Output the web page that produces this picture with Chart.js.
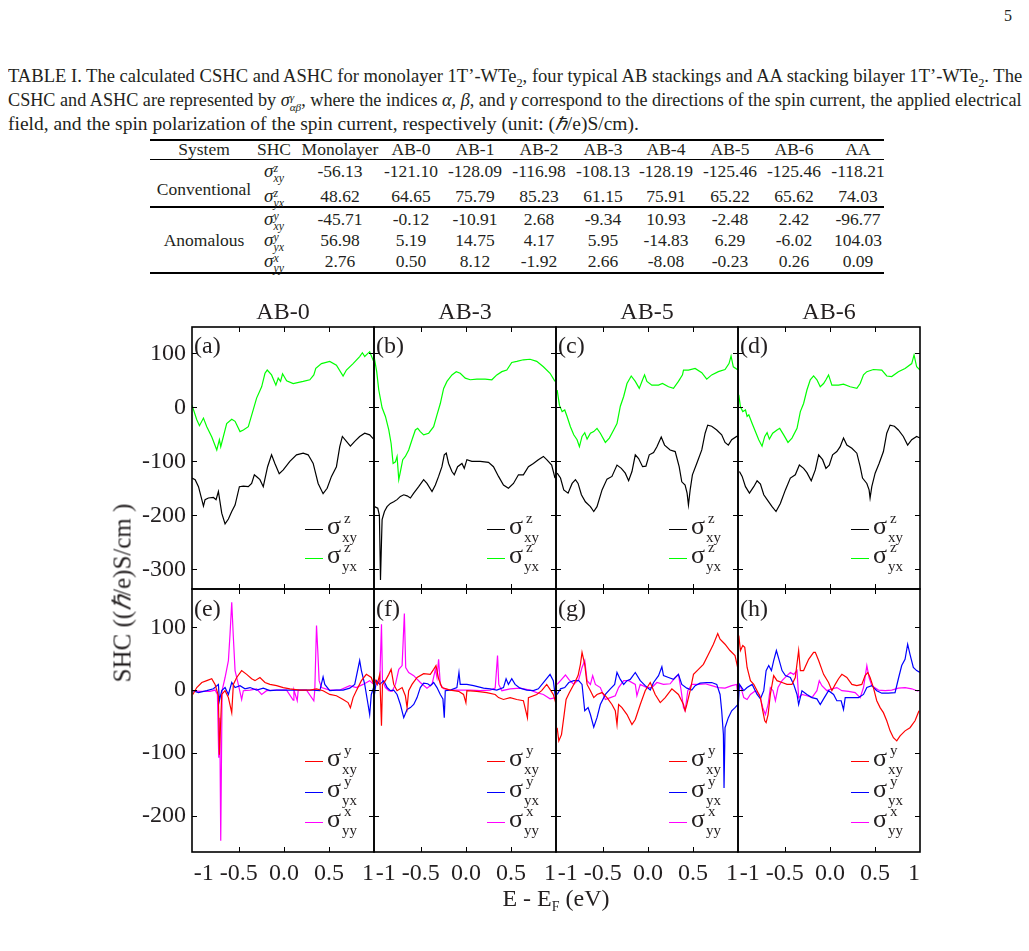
<!DOCTYPE html>
<html>
<head>
<meta charset="utf-8">
<script src="https://cdn.jsdelivr.net/npm/chart.js@4.4.1/dist/chart.umd.min.js"></script>
<style>
  body { margin: 0; background: #fff; }
  #page { position: relative; width: 1029px; height: 951px; overflow: hidden;
          font-family: "Liberation Serif", "Times New Roman", serif; color: #231f20; }
  .t { position: absolute; white-space: nowrap; line-height: 1; }
  canvas { position: absolute; }
  .cap { position: absolute; left: 8px; font-size: 18px; line-height: 24px; white-space: nowrap;
         transform-origin: 0 50%; }
  .rule { position: absolute; left: 150px; width: 734px; background: #000; }
  .st { display: inline-block; vertical-align: -0.42em; line-height: 0.85; font-size: 0.62em; text-align: left; }
  .st span { display: block; }
  .lg { position: absolute; height: 0; border-top: 1.3px solid; width: 18px; }
</style>
</head>
<body>
<div id="page"></div>
<script>
// ---- data ----
const energyTicks = [-1, -0.5, 0, 0.5, 1];
const shcTicksTop = [100, 0, -100, -200, -300];
const shcTicksBottom = [100, 0, -100, -200];
const stackings = ['AB-0', 'AB-3', 'AB-5', 'AB-6'];
const panelTags = [['(a)', '(b)', '(c)', '(d)'], ['(e)', '(f)', '(g)', '(h)']];

// conventional SHC, sigma^z_xy (black) and sigma^z_yx (green)
const ab0Zxy = [[-1.02,-131],[-0.985,-134],[-0.948,-147],[-0.911,-171],[-0.893,-183],[-0.875,-171],[-0.838,-168],[-0.782,-167],[-0.753,-171],[-0.727,-156],[-0.69,-196],[-0.653,-216],[-0.616,-207],[-0.579,-193],[-0.542,-181],[-0.494,-147],[-0.45,-146],[-0.395,-147],[-0.358,-141],[-0.328,-125],[-0.292,-130],[-0.266,-134],[-0.229,-147],[-0.181,-110],[-0.137,-88],[-0.1,-104],[-0.052,-123],[-0.007,-116],[0.066,-100],[0.14,-88],[0.214,-85],[0.269,-88],[0.325,-104],[0.38,-141],[0.435,-160],[0.48,-150],[0.528,-128],[0.583,-110],[0.62,-73],[0.649,-54],[0.694,-63],[0.738,-72],[0.786,-63],[0.841,-54],[0.897,-48],[0.952,-51],[0.996,-59]];
const ab0Zyx = [[-1.02,4],[-0.967,-23],[-0.937,-34],[-0.893,-20],[-0.856,-36],[-0.8,-55],[-0.745,-79],[-0.716,-60],[-0.701,-73],[-0.635,-30],[-0.579,-22],[-0.542,-26],[-0.487,-45],[-0.45,-42],[-0.395,-36],[-0.339,-4],[-0.303,17],[-0.247,38],[-0.21,63],[-0.185,69],[-0.137,60],[-0.089,41],[-0.063,54],[-0.037,48],[-0.015,62],[0.03,49],[0.103,44],[0.214,48],[0.288,51],[0.332,60],[0.354,72],[0.417,81],[0.509,85],[0.583,78],[0.657,58],[0.694,69],[0.768,81],[0.841,94],[0.871,101],[0.897,94],[0.915,97],[0.952,103],[0.996,85]];
const ab3Zxy = [[-1.015,-184],[-0.978,-187],[-0.96,-200],[-0.948,-320],[-0.937,-250],[-0.93,-208],[-0.904,-193],[-0.875,-184],[-0.838,-178],[-0.801,-175],[-0.764,-171],[-0.727,-165],[-0.69,-162],[-0.653,-164],[-0.616,-168],[-0.579,-159],[-0.524,-147],[-0.469,-134],[-0.432,-141],[-0.376,-156],[-0.339,-144],[-0.303,-128],[-0.266,-110],[-0.24,-88],[-0.218,-85],[-0.192,-104],[-0.155,-119],[-0.129,-125],[-0.092,-110],[-0.044,-104],[-0.018,-113],[0.011,-97],[0.066,-100],[0.159,-100],[0.251,-102],[0.306,-110],[0.362,-128],[0.417,-144],[0.472,-150],[0.528,-141],[0.583,-125],[0.638,-125],[0.694,-110],[0.749,-104],[0.804,-97],[0.86,-91],[0.897,-97],[0.952,-107],[0.989,-131]];
const ab3Zyx = [[-1.015,90],[-0.99,66],[-0.967,32],[-0.93,-1],[-0.893,-17],[-0.856,-42],[-0.83,-67],[-0.808,-104],[-0.782,-101],[-0.764,-91],[-0.745,-134],[-0.727,-119],[-0.701,-97],[-0.672,-91],[-0.635,-79],[-0.598,-60],[-0.561,-42],[-0.535,-39],[-0.506,-45],[-0.469,-51],[-0.413,-48],[-0.358,-36],[-0.321,-14],[-0.284,7],[-0.247,35],[-0.21,48],[-0.155,60],[-0.107,66],[-0.063,63],[-0.007,54],[0.048,51],[0.122,52],[0.214,52],[0.288,51],[0.343,60],[0.399,66],[0.454,69],[0.509,83],[0.565,85],[0.638,88],[0.712,89],[0.786,85],[0.86,75],[0.934,63],[0.989,48]];
const ab5Zxy = [[-1.007,-122],[-0.97,-131],[-0.934,-153],[-0.886,-159],[-0.841,-141],[-0.804,-134],[-0.775,-141],[-0.738,-162],[-0.694,-175],[-0.638,-184],[-0.601,-193],[-0.565,-184],[-0.509,-153],[-0.454,-133],[-0.399,-128],[-0.343,-107],[-0.295,-113],[-0.251,-122],[-0.214,-136],[-0.177,-119],[-0.14,-88],[-0.103,-95],[-0.059,-110],[-0.022,-109],[0.015,-88],[0.063,-84],[0.1,-73],[0.148,-55],[0.185,-70],[0.247,-79],[0.303,-82],[0.347,-110],[0.376,-138],[0.413,-144],[0.435,-159],[0.45,-181],[0.469,-153],[0.494,-125],[0.542,-104],[0.598,-79],[0.635,-48],[0.664,-33],[0.708,-35],[0.764,-42],[0.819,-51],[0.856,-65],[0.893,-70],[0.93,-60],[0.985,-54],[1.0,-54]];
const ab5Zyx = [[-1.007,32],[-0.982,4],[-0.952,-8],[-0.923,-5],[-0.897,-17],[-0.86,-36],[-0.823,-51],[-0.786,-60],[-0.76,-73],[-0.731,-54],[-0.701,-47],[-0.675,-59],[-0.638,-48],[-0.601,-45],[-0.565,-39],[-0.528,-48],[-0.472,-65],[-0.428,-57],[-0.38,-42],[-0.343,-30],[-0.306,2],[-0.269,20],[-0.232,44],[-0.185,58],[-0.14,48],[-0.096,35],[-0.059,51],[-0.037,60],[-0.011,48],[0.044,41],[0.118,41],[0.162,44],[0.229,38],[0.284,35],[0.339,48],[0.384,60],[0.395,69],[0.45,69],[0.524,72],[0.598,64],[0.653,52],[0.708,60],[0.782,66],[0.856,70],[0.9,81],[0.923,95],[0.948,75],[1.0,69]];
const ab6Zxy = [[-1.004,-119],[-0.974,-128],[-0.937,-147],[-0.893,-159],[-0.845,-147],[-0.808,-136],[-0.771,-142],[-0.734,-162],[-0.679,-175],[-0.642,-184],[-0.598,-193],[-0.55,-178],[-0.494,-153],[-0.439,-131],[-0.384,-125],[-0.339,-107],[-0.292,-113],[-0.255,-121],[-0.207,-136],[-0.162,-116],[-0.125,-88],[-0.081,-97],[-0.044,-113],[-0.007,-107],[0.03,-88],[0.077,-82],[0.114,-73],[0.151,-57],[0.188,-70],[0.244,-76],[0.299,-85],[0.336,-110],[0.362,-131],[0.41,-141],[0.435,-153],[0.446,-168],[0.465,-147],[0.502,-122],[0.546,-104],[0.594,-82],[0.631,-48],[0.668,-33],[0.716,-35],[0.76,-42],[0.815,-54],[0.863,-70],[0.908,-60],[0.963,-54],[1.0,-57]];
const ab6Zyx = [[-1.011,23],[-0.993,1],[-0.967,-8],[-0.937,-5],[-0.919,-17],[-0.9,-14],[-0.863,-30],[-0.827,-45],[-0.79,-60],[-0.753,-72],[-0.723,-54],[-0.697,-47],[-0.672,-59],[-0.635,-48],[-0.587,-42],[-0.557,-39],[-0.513,-51],[-0.465,-65],[-0.421,-57],[-0.365,-39],[-0.328,-8],[-0.292,7],[-0.255,32],[-0.218,51],[-0.181,58],[-0.144,51],[-0.107,38],[-0.07,44],[-0.044,51],[-0.015,60],[0.022,41],[0.096,41],[0.151,43],[0.225,38],[0.299,35],[0.336,44],[0.373,60],[0.41,66],[0.483,70],[0.576,69],[0.631,58],[0.686,57],[0.76,66],[0.834,72],[0.908,81],[0.934,97],[0.963,75],[1.0,69]];

// anomalous SHC, sigma^y_xy (red), sigma^y_yx (blue), sigma^x_yy (magenta)
const ab0Yxy = [[-1.011,-7],[-0.967,4],[-0.911,12],[-0.856,15],[-0.801,18],[-0.764,9],[-0.727,-9],[-0.716,-103],[-0.69,-7],[-0.653,-1],[-0.616,-12],[-0.579,-36],[-0.561,9],[-0.524,20],[-0.469,31],[-0.413,25],[-0.358,18],[-0.321,15],[-0.266,20],[-0.21,12],[-0.155,9],[-0.081,7],[-0.007,4],[0.066,2],[0.177,0],[0.288,0],[0.362,2],[0.435,-1],[0.509,-7],[0.583,-9],[0.657,-15],[0.712,-20],[0.738,-28],[0.768,-12],[0.804,-1],[0.86,15],[0.915,25],[0.97,20],[0.996,9]];
const ab0Yyx = [[-1.011,-1],[-0.948,-4],[-0.856,-1],[-0.782,2],[-0.727,9],[-0.716,-17],[-0.69,-1],[-0.653,4],[-0.616,-7],[-0.579,12],[-0.542,4],[-0.487,7],[-0.432,2],[-0.376,4],[-0.303,0],[-0.229,3],[-0.155,-1],[-0.081,0],[0.066,0],[0.214,0],[0.325,0],[0.399,-1],[0.435,21],[0.454,9],[0.509,-1],[0.583,0],[0.657,0],[0.731,3],[0.786,9],[0.841,47],[0.86,31],[0.897,9],[0.934,-23],[0.952,-39],[0.97,-7],[0.996,4]];
const ab0Xyy = [[-1.011,-1],[-0.93,-2],[-0.819,-2],[-0.764,0],[-0.738,-7],[-0.723,-108],[-0.712,-44],[-0.701,-240],[-0.686,-1],[-0.653,20],[-0.616,47],[-0.598,89],[-0.579,140],[-0.561,84],[-0.542,31],[-0.506,9],[-0.469,-15],[-0.45,-1],[-0.376,0],[-0.303,2],[-0.247,-7],[-0.192,-1],[-0.081,0],[0.03,0],[0.103,-16],[0.111,0],[0.148,-17],[0.159,0],[0.251,0],[0.332,-17],[0.343,0],[0.362,103],[0.376,63],[0.391,15],[0.417,4],[0.509,0],[0.62,0],[0.731,7],[0.804,4],[0.878,9],[0.952,15],[0.996,9]];
const ab3Yxy = [[-1.015,18],[-0.985,9],[-0.956,25],[-0.937,-57],[-0.926,9],[-0.893,15],[-0.856,25],[-0.83,33],[-0.801,9],[-0.764,-1],[-0.708,4],[-0.672,-9],[-0.653,-28],[-0.635,-1],[-0.598,9],[-0.542,20],[-0.469,26],[-0.395,25],[-0.358,33],[-0.332,39],[-0.303,18],[-0.266,4],[-0.173,0],[-0.081,-2],[-0.026,-7],[0,-20],[0.011,-1],[0.122,-2],[0.232,-4],[0.325,-7],[0.362,-12],[0.417,-15],[0.491,-12],[0.565,-15],[0.638,-17],[0.683,-44],[0.694,-12],[0.786,-7],[0.841,-1],[0.897,9],[0.934,1],[0.97,-7],[0.996,-20]];
const ab3Yyx = [[-1.015,-7],[-0.993,15],[-0.956,9],[-0.911,15],[-0.875,4],[-0.838,-1],[-0.801,0],[-0.764,-7],[-0.727,-23],[-0.69,-44],[-0.653,-31],[-0.616,-28],[-0.579,-23],[-0.542,-12],[-0.506,4],[-0.469,11],[-0.424,10],[-0.395,7],[-0.358,12],[-0.321,4],[-0.284,-7],[-0.255,-14],[-0.24,-44],[-0.229,-1],[-0.173,0],[-0.1,4],[-0.077,28],[-0.063,9],[0.011,9],[0.085,7],[0.196,3],[0.269,2],[0.343,0],[0.417,4],[0.446,18],[0.472,9],[0.509,18],[0.546,9],[0.601,3],[0.675,0],[0.749,-1],[0.804,2],[0.86,12],[0.934,25],[0.97,15],[0.996,-14]];
const ab3Xyy = [[-1.015,15],[-0.985,9],[-0.956,15],[-0.937,105],[-0.926,15],[-0.893,4],[-0.856,-1],[-0.819,-2],[-0.782,9],[-0.745,33],[-0.708,39],[-0.683,122],[-0.668,36],[-0.635,28],[-0.579,23],[-0.506,12],[-0.432,3],[-0.376,9],[-0.339,33],[-0.321,20],[-0.303,49],[-0.284,9],[-0.247,2],[-0.173,0],[-0.063,0],[0.048,0],[0.159,-1],[0.269,0],[0.325,3],[0.351,55],[0.365,9],[0.399,-1],[0.491,2],[0.601,3],[0.712,0],[0.786,-4],[0.86,-7],[0.934,-14],[0.996,-12]];
const ab5Yxy = [[-1.007,-60],[-0.989,-81],[-0.959,-71],[-0.934,-44],[-0.908,-15],[-0.871,-4],[-0.823,9],[-0.775,23],[-0.749,41],[-0.731,60],[-0.701,41],[-0.675,9],[-0.638,-1],[-0.601,-12],[-0.565,-7],[-0.509,-4],[-0.454,-12],[-0.399,-23],[-0.362,-33],[-0.343,-55],[-0.325,-23],[-0.288,-28],[-0.232,-39],[-0.177,-55],[-0.14,-47],[-0.085,-23],[-0.03,-1],[0.026,12],[0.081,-7],[0.137,-20],[0.192,-12],[0.266,2],[0.339,-7],[0.395,-23],[0.413,-33],[0.432,-23],[0.469,-1],[0.506,25],[0.561,33],[0.616,41],[0.672,57],[0.727,73],[0.775,90],[0.801,81],[0.856,73],[0.911,63],[0.967,55],[0.996,36]];
const ab5Yyx = [[-1.007,-7],[-0.97,2],[-0.923,4],[-0.878,12],[-0.823,15],[-0.768,15],[-0.731,9],[-0.701,-33],[-0.664,-28],[-0.638,-39],[-0.601,-59],[-0.565,-44],[-0.528,-23],[-0.472,-7],[-0.417,2],[-0.369,9],[-0.343,28],[-0.306,17],[-0.269,9],[-0.232,15],[-0.196,17],[-0.14,28],[-0.085,15],[-0.03,7],[0.026,0],[0.063,12],[0.118,23],[0.155,37],[0.173,23],[0.229,20],[0.284,17],[0.339,25],[0.376,9],[0.432,3],[0.487,0],[0.524,7],[0.579,11],[0.653,12],[0.708,12],[0.764,9],[0.801,-7],[0.819,-33],[0.838,-71],[0.845,-156],[0.856,-60],[0.893,-44],[0.93,-33],[0.967,-28],[1.0,-23]];
const ab5Xyy = [[-1.007,9],[-0.97,15],[-0.915,24],[-0.878,17],[-0.823,9],[-0.768,17],[-0.731,36],[-0.701,47],[-0.675,15],[-0.638,9],[-0.613,23],[-0.583,9],[-0.528,4],[-0.472,-15],[-0.417,-12],[-0.362,-9],[-0.325,4],[-0.269,15],[-0.214,15],[-0.14,9],[-0.122,-9],[-0.085,9],[-0.011,4],[0.044,4],[0.1,12],[0.173,9],[0.247,10],[0.303,20],[0.339,25],[0.369,-1],[0.395,-28],[0.413,-33],[0.443,-1],[0.487,9],[0.561,9],[0.635,10],[0.708,7],[0.782,4],[0.856,3],[0.93,7],[0.985,9],[1.0,-9]];
const ab6Yxy = [[-1.011,87],[-0.993,63],[-0.967,71],[-0.945,68],[-0.919,36],[-0.882,15],[-0.845,9],[-0.808,-1],[-0.771,-12],[-0.745,-33],[-0.723,-49],[-0.708,-52],[-0.686,-39],[-0.661,-7],[-0.624,23],[-0.587,15],[-0.531,12],[-0.476,9],[-0.421,9],[-0.384,20],[-0.347,63],[-0.328,31],[-0.292,31],[-0.236,49],[-0.181,60],[-0.162,60],[-0.125,47],[-0.07,25],[-0.015,12],[0.022,-1],[0.059,9],[0.096,18],[0.133,25],[0.188,20],[0.244,9],[0.299,7],[0.354,9],[0.391,23],[0.421,28],[0.446,20],[0.483,4],[0.52,-17],[0.557,-28],[0.594,-36],[0.631,-49],[0.668,-65],[0.705,-76],[0.742,-81],[0.779,-73],[0.834,-65],[0.889,-60],[0.945,-49],[0.989,-33]];
const ab6Yyx = [[-1.02,-33],[-1.004,9],[-0.956,-1],[-0.919,4],[-0.863,9],[-0.808,-7],[-0.771,-14],[-0.734,-1],[-0.708,31],[-0.679,39],[-0.649,31],[-0.624,47],[-0.594,63],[-0.568,50],[-0.531,31],[-0.494,23],[-0.439,20],[-0.402,9],[-0.365,-7],[-0.347,-23],[-0.31,-1],[-0.255,-7],[-0.199,-12],[-0.144,-14],[-0.107,-23],[-0.07,-14],[-0.015,-1],[0.041,-7],[0.077,-17],[0.125,-17],[0.151,-31],[0.17,-12],[0.244,-12],[0.317,-12],[0.373,-7],[0.41,4],[0.465,7],[0.52,-1],[0.576,-5],[0.649,-5],[0.723,-4],[0.76,18],[0.797,39],[0.834,49],[0.863,73],[0.889,57],[0.926,36],[0.963,31],[1.0,28]];
const ab6Xyy = [[-1.02,9],[-0.993,7],[-0.956,-12],[-0.919,-15],[-0.882,-7],[-0.827,-1],[-0.782,-7],[-0.745,-28],[-0.716,-39],[-0.686,-23],[-0.661,4],[-0.631,-1],[-0.605,-17],[-0.576,4],[-0.531,15],[-0.476,23],[-0.439,28],[-0.402,25],[-0.365,31],[-0.347,-12],[-0.31,-7],[-0.255,-9],[-0.199,-12],[-0.144,-1],[-0.118,15],[-0.089,7],[-0.033,-1],[0.022,2],[0.077,4],[0.133,-1],[0.207,-2],[0.28,-4],[0.336,-12],[0.373,4],[0.41,39],[0.435,20],[0.465,7],[0.539,0],[0.613,-1],[0.686,0],[0.76,3],[0.834,4],[0.908,2],[0.982,-2]];

// table I
const tableHeader = ['System', 'SHC', 'Monolayer', 'AB-0', 'AB-1', 'AB-2', 'AB-3', 'AB-4', 'AB-5', 'AB-6', 'AA'];
const cshcXY = ['-56.13', '-121.10', '-128.09', '-116.98', '-108.13', '-128.19', '-125.46', '-125.46', '-118.21'];
const cshcYX = ['48.62', '64.65', '75.79', '85.23', '61.15', '75.91', '65.22', '65.62', '74.03'];
const ashcXY = ['-45.71', '-0.12', '-10.91', '2.68', '-9.34', '10.93', '-2.48', '2.42', '-96.77'];
const ashcYX = ['56.98', '5.19', '14.75', '4.17', '5.95', '-14.83', '6.29', '-6.02', '104.03'];
const ashcYY = ['2.76', '0.50', '8.12', '-1.92', '2.66', '-8.08', '-0.23', '0.26', '0.09'];

// ---- page layout ----
const page = document.getElementById('page');
function addText(html, x, y, size, transform, extra) {
  const d = document.createElement('div');
  d.className = 't';
  d.innerHTML = html;
  d.style.left = x + 'px';
  d.style.top = y + 'px';
  d.style.fontSize = size + 'px';
  if (transform) d.style.transform = transform;
  if (extra) Object.assign(d.style, extra);
  page.appendChild(d);
  return d;
}
const C = 'translate(-50%,-50%)';
const sig = (sup, sub) => '<i>σ</i><span class="st"><span><i>' + sup + '</i></span><span><i>' + sub + '</i></span></span>';

addText('5', 1004, 8, 16);

// caption: each line squeezed to the width it takes in the printed page
const capLines = [
  'TABLE I. The calculated CSHC and ASHC for monolayer 1T’-WTe<sub style="font-size:12px">2</sub>, four typical AB stackings and AA stacking bilayer 1T’-WTe<sub style="font-size:12px">2</sub>. The',
  'CSHC and ASHC are represented by ' + sig('γ', 'αβ') + ', where the indices <i>α</i>, <i>β</i>, and <i>γ</i> correspond to the directions of the spin current, the applied electrical',
  'field, and the spin polarization of the spin current, respectively (unit: (<i>ℏ</i>/e)S/cm).'
];
const capWidth = [1014, 1014, 631];
const capTop = [64, 88, 112];
const capDivs = capLines.map((html, i) => {
  const d = document.createElement('div');
  d.className = 'cap';
  d.style.top = capTop[i] + 'px';
  d.innerHTML = html;
  page.appendChild(d);
  return d;
});
function fitCaption() {
  capDivs.forEach((d, i) => {
    d.style.transform = 'none';
    d.style.transform = 'scaleX(' + (capWidth[i] / d.offsetWidth) + ')';
  });
}
fitCaption();
if (document.fonts) document.fonts.ready.then(fitCaption);

// table
[[140, 1.6], [159, 0.8], [207, 1.6], [273, 1.6]].forEach(([y, h]) => {
  const r = document.createElement('div');
  r.className = 'rule';
  r.style.top = (y - h / 2) + 'px';
  r.style.height = h + 'px';
  page.appendChild(r);
});
const colX = [204, 274, 340, 411, 475, 539, 603, 666, 730, 794, 858];
const rowY = [150, 172, 197, 220, 241, 262];
tableHeader.forEach((h, i) => addText(h, colX[i], rowY[0], 17.5, C));
addText('Conventional', colX[0], 190, 17.5, C);
addText('Anomalous', colX[0], rowY[4], 17.5, C);
const shcLabels = [sig('z', 'xy'), sig('z', 'yx'), sig('y', 'xy'), sig('y', 'yx'), sig('x', 'yy')];
[cshcXY, cshcYX, ashcXY, ashcYX, ashcYY].forEach((row, r) => {
  addText(shcLabels[r], colX[1], rowY[r + 1], 19, C);
  row.forEach((v, i) => addText(v, colX[i + 2], rowY[r + 1], 17.5, C));
});

// ---- charts ----
const panelLeft = [192, 374, 556, 738];
const rowTop = [327, 589];
const plotW = 182, plotH = [262, 263];
const yRange = [[-336.5, 148.7], [-258, 161]];
const padL = 75, padR = 12, padT = 12, padB = 45;

const framePlugin = {
  id: 'frame',
  afterDatasetsDraw(chart) {
    const { ctx, chartArea: a, scales: { x, y } } = chart;
    ctx.save();
    ctx.strokeStyle = '#000';
    ctx.lineWidth = 1;
    ctx.beginPath();
    energyTicks.filter(v => Math.abs(v) < 1).forEach(v => {
      const px = Math.round(x.getPixelForValue(v)) + 0.5;
      ctx.moveTo(px, a.bottom); ctx.lineTo(px, a.bottom - 5);
      ctx.moveTo(px, a.top); ctx.lineTo(px, a.top + 5);
    });
    y.ticks.forEach(t => {
      const py = Math.round(y.getPixelForValue(t.value)) + 0.5;
      ctx.moveTo(a.left, py); ctx.lineTo(a.left + 5, py);
      ctx.moveTo(a.right, py); ctx.lineTo(a.right - 5, py);
    });
    ctx.stroke();
    ctx.lineWidth = 1.6;
    ctx.strokeRect(a.left, a.top, a.right - a.left, a.bottom - a.top);
    ctx.restore();
  }
};

function makePanel(col, row, series, colors) {
  const cv = document.createElement('canvas');
  cv.width = plotW + padL + padR;
  cv.height = plotH[row] + padT + padB;
  cv.style.left = (panelLeft[col] - padL) + 'px';
  cv.style.top = (rowTop[row] - padT) + 'px';
  page.appendChild(cv);
  const yTicks = row === 0 ? shcTicksTop : shcTicksBottom;
  new Chart(cv, {
    type: 'line',
    data: {
      datasets: series.map((s, k) => ({
        data: s.map(p => ({ x: p[0], y: p[1] })),
        borderColor: colors[k],
        borderWidth: 1.2,
        pointRadius: 0,
        tension: 0,
        fill: false
      }))
    },
    options: {
      responsive: false,
      animation: false,
      devicePixelRatio: 1,
      layout: { padding: { top: padT, right: padR, left: 0, bottom: 0 } },
      plugins: { legend: { display: false }, tooltip: { enabled: false } },
      scales: {
        x: {
          type: 'linear', min: -1.02, max: 1.0,
          afterBuildTicks: s => { s.ticks = energyTicks.map(v => ({ value: v })); },
          afterFit: s => { s.height = padB; s.paddingLeft = 0; s.paddingRight = 0; },
          grid: { display: false, drawTicks: false },
          border: { display: false },
          ticks: {
            display: row === 1, autoSkip: false, maxRotation: 0, padding: 7, align: 'inner',
            color: '#231f20', font: { family: 'Liberation Serif', size: 24 },
            callback: v => v === 0 ? '0.0' : (Number.isInteger(v) ? String(v) : v.toFixed(1))
          }
        },
        y: {
          type: 'linear', min: yRange[row][0], max: yRange[row][1],
          afterBuildTicks: s => { s.ticks = yTicks.map(v => ({ value: v })); },
          afterFit: s => { s.width = padL; s.paddingTop = 0; s.paddingBottom = 0; },
          grid: { display: false, drawTicks: false },
          border: { display: false },
          ticks: {
            display: col === 0, padding: 6,
            color: '#231f20', font: { family: 'Liberation Serif', size: 24 },
            callback: v => String(v)
          }
        }
      }
    },
    plugins: [framePlugin]
  });
}

const topSeries = [[ab0Zxy, ab0Zyx], [ab3Zxy, ab3Zyx], [ab5Zxy, ab5Zyx], [ab6Zxy, ab6Zyx]];
const bottomSeries = [[ab0Yxy, ab0Yyx, ab0Xyy], [ab3Yxy, ab3Yyx, ab3Xyy], [ab5Yxy, ab5Yyx, ab5Xyy], [ab6Yxy, ab6Yyx, ab6Xyy]];
const topColors = ['#000000', '#00ff00'];
const bottomColors = ['#ff0000', '#0000ff', '#ff00ff'];
const topLegend = [['z', 'xy'], ['z', 'yx']];
const bottomLegend = [['y', 'xy'], ['y', 'yx'], ['x', 'yy']];

function legend(col, row, entries, colors) {
  const ys = row === 0 ? [529, 558] : [761, 792, 822];
  entries.forEach((e, k) => {
    const lx = panelLeft[col] + 113;
    const ln = document.createElement('div');
    ln.className = 'lg';
    ln.style.left = lx + 'px';
    ln.style.top = ys[k] + 'px';
    ln.style.borderTopColor = colors[k];
    page.appendChild(ln);
    addText('σ', lx + 22, ys[k] - 16, 26);
    addText(e[0], lx + 39, ys[k] - 18, 15);
    addText(e[1], lx + 37, ys[k] + 1, 15);
  });
}

for (let c = 0; c < 4; c++) {
  makePanel(c, 0, topSeries[c], topColors);
  makePanel(c, 1, bottomSeries[c], bottomColors);
  legend(c, 0, topLegend, topColors);
  legend(c, 1, bottomLegend, bottomColors);
  addText(stackings[c], panelLeft[c] + plotW / 2, 311, 24, C);
  addText(panelTags[0][c], panelLeft[c] + 2, 333, 24);
  addText(panelTags[1][c], panelLeft[c] + 2, 596, 24);
}

addText('SHC ((<i>ℏ</i>/e)S/cm )', 122, 593, 25, 'translate(-50%,-50%) rotate(-90deg)');
addText('E - E<sub style="font-size:14px">F</sub> (eV)', 556, 900, 24, C);
</script>
</body>
</html>
